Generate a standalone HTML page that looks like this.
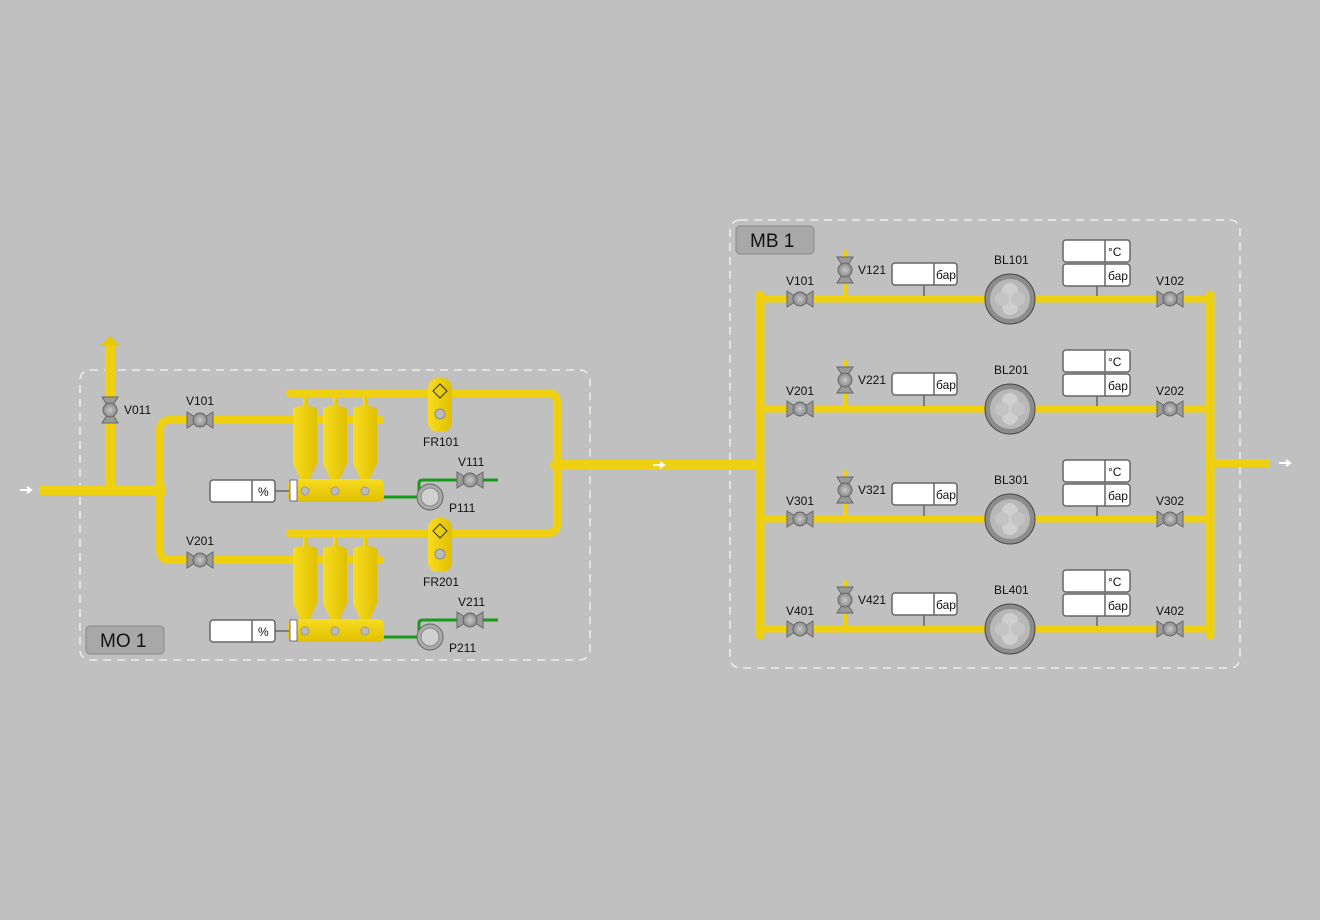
<!DOCTYPE html>
<html><head><meta charset="utf-8"><style>
html,body{margin:0;padding:0;background:#c0c0c0}
svg{display:block}
text{font-family:"Liberation Sans",sans-serif;font-size:12px;fill:#111}
</style></head><body>
<svg width="1320" height="920" viewBox="0 0 1320 920" xmlns="http://www.w3.org/2000/svg">
<defs>
<linearGradient id="py" x1="0" y1="0" x2="0" y2="1"><stop offset="0" stop-color="#f8dc20"/><stop offset="1" stop-color="#e0c000"/></linearGradient>
<linearGradient id="px" x1="0" y1="0" x2="1" y2="0"><stop offset="0" stop-color="#f8dc20"/><stop offset="1" stop-color="#e0c000"/></linearGradient>
<radialGradient id="gb"><stop offset="0" stop-color="#c8c8c8"/><stop offset="1" stop-color="#8a8a8a"/></radialGradient>
<g id="vh"><path d="M-13,-8 L-5,-3 L5,-3 L13,-8 L13,8 L5,3 L-5,3 L-13,8Z" fill="#9a9a9a" stroke="#666" stroke-width="1"/><circle r="7" fill="url(#gb)" stroke="#666"/></g>
<g id="vv"><path d="M-8,-13 L-3,-5 L-3,5 L-8,13 L8,13 L3,5 L3,-5 L8,-13Z" fill="#9a9a9a" stroke="#666"/><circle r="7" fill="url(#gb)" stroke="#666"/></g>
<g id="bl"><circle r="25" fill="#8c8c8c" stroke="#444"/><circle r="20" fill="#b8b8b8"/><circle cx="0" cy="-8" r="8" fill="#cfcfcf"/><circle cx="0" cy="8" r="8" fill="#cfcfcf"/><circle cx="-8" cy="0" r="7" fill="#c4c4c4"/><circle cx="8" cy="0" r="7" fill="#c4c4c4"/></g>
<g id="cy"><rect x="-2" y="-14" width="4" height="10" fill="url(#px)"/><path d="M-12,-1 Q-12,-5 0,-5 Q12,-5 12,-1 L12,52 L4,70 L-4,70 L-12,52Z" fill="url(#px)"/></g>
<g id="fr"><rect x="-12" y="0" width="24" height="54" rx="10" fill="url(#px)"/><path d="M0,6 L7,13 L0,20 L-7,13Z" fill="none" stroke="#333"/><circle cy="36" r="5" fill="#bbb" stroke="#888"/></g>
<g id="pu"><circle r="13" fill="#aaa" stroke="#666"/><circle r="9" fill="#d0d0d0" stroke="#888"/></g>
</defs>

<rect x="80" y="370" width="510" height="290" rx="10" fill="none" stroke="#eee" stroke-width="1.5" stroke-dasharray="8,6"/>
<rect x="730" y="220" width="510" height="448" rx="10" fill="none" stroke="#eee" stroke-width="1.5" stroke-dasharray="8,6"/>
<rect x="86" y="626" width="78" height="28" rx="4" fill="#a8a8a8" stroke="#888"/><text x="100" y="647" style="font-size:19px">MO 1</text>
<rect x="736" y="226" width="78" height="28" rx="4" fill="#a8a8a8" stroke="#888"/><text x="750" y="247" style="font-size:19px">MB 1</text>

<g fill="none" stroke="#eed010" stroke-linecap="round">
<path d="M40,490 H165" stroke-width="10" stroke-linecap="butt"/>
<path d="M110,490 V345" stroke-width="10" stroke-linecap="butt"/>
<path d="M300,420 H170 Q160,420 160,430 V550 Q160,560 170,560 H300" stroke-width="8"/>
<path d="M290,393 H547 Q557,393 557,403 V525 Q557,533 547,533 H290" stroke-width="8"/>
<path d="M555,465 H757" stroke-width="10"/>
<path d="M760,295 V635 M1210,295 V635" stroke-width="9"/>
<path d="M1210,463 H1270" stroke-width="8" stroke-linecap="butt"/>
<path d="M760,299 H1210 M760,409 H1210 M760,519 H1210 M760,629 H1210" stroke-width="7"/>
<path d="M845,299 V252 M845,409 V362 M845,519 V472 M845,629 V582" stroke-width="4"/>
<path d="M300,420 H380 M300,560 H380" stroke-width="8"/>
</g>
<path d="M100,346 L110,336 L120,346Z" fill="#e8c800"/>
<path d="M20,490 H30 M27,487 L31,490 L27,493" stroke="#fff" stroke-width="2" fill="none"/>
<path d="M653,465 H663 M660,462 L664,465 L660,468" stroke="#fff" stroke-width="2" fill="none"/>
<path d="M1279,463 H1289 M1286,460 L1290,463 L1286,466" stroke="#fff" stroke-width="2" fill="none"/>

<g fill="none" stroke="#1a9a1a" stroke-width="3">
<path d="M383,497 H420 M419,495 V483 Q419,480 423,480 H498"/>
<path d="M383,637 H420 M419,635 V623 Q419,620 423,620 H498"/>
</g>

<use href="#vv" x="110" y="410"/><text x="124" y="414">V011</text>
<use href="#vh" x="200" y="420"/><text x="186" y="405">V101</text>
<use href="#vh" x="200" y="560"/><text x="186" y="545">V201</text>
<use href="#cy" x="305" y="411"/><use href="#cy" x="335" y="411"/><use href="#cy" x="365" y="411"/>
<use href="#cy" x="305" y="551"/><use href="#cy" x="335" y="551"/><use href="#cy" x="365" y="551"/>
<g>
<rect x="288" y="479" width="96" height="23" rx="6" fill="url(#py)"/><rect x="290" y="480" width="7" height="21" fill="#fff" stroke="#555" stroke-width=".8"/>
<circle cx="305" cy="491" r="4" fill="#bbb" stroke="#999"/><circle cx="335" cy="491" r="4" fill="#bbb" stroke="#999"/><circle cx="365" cy="491" r="4" fill="#bbb" stroke="#999"/>
<rect x="288" y="619" width="96" height="23" rx="6" fill="url(#py)"/><rect x="290" y="620" width="7" height="21" fill="#fff" stroke="#555" stroke-width=".8"/>
<circle cx="305" cy="631" r="4" fill="#bbb" stroke="#999"/><circle cx="335" cy="631" r="4" fill="#bbb" stroke="#999"/><circle cx="365" cy="631" r="4" fill="#bbb" stroke="#999"/>
</g>
<g stroke="#666" stroke-width="1.5" fill="#fff">
<line x1="275" y1="491" x2="289" y2="491"/><line x1="275" y1="631" x2="289" y2="631"/>
<rect x="210" y="480" width="65" height="22" rx="3"/><line x1="252" y1="480" x2="252" y2="502"/>
<rect x="210" y="620" width="65" height="22" rx="3"/><line x1="252" y1="620" x2="252" y2="642"/>
</g>
<text x="258" y="496">%</text><text x="258" y="636">%</text>
<use href="#fr" x="440" y="378"/><text x="423" y="446">FR101</text>
<use href="#fr" x="440" y="518"/><text x="423" y="586">FR201</text>
<use href="#pu" x="430" y="497"/><text x="449" y="512">P111</text>
<use href="#pu" x="430" y="637"/><text x="449" y="652">P211</text>
<use href="#vh" x="470" y="480"/><text x="458" y="466">V111</text>
<use href="#vh" x="470" y="620"/><text x="458" y="606">V211</text>

<g id="row1">
<g stroke="#666" stroke-width="1.5" fill="#fff">
<line x1="924" y1="285" x2="924" y2="296"/><line x1="1097" y1="285" x2="1097" y2="296"/>
<rect x="892" y="263" width="65" height="22" rx="3"/><line x1="934" y1="263" x2="934" y2="285"/>
<rect x="1063" y="240" width="67" height="22" rx="3"/><line x1="1105" y1="240" x2="1105" y2="262"/>
<rect x="1063" y="264" width="67" height="22" rx="3"/><line x1="1105" y1="264" x2="1105" y2="286"/>
</g>
<use href="#vh" x="800" y="299"/><use href="#vv" x="845" y="270"/><use href="#bl" x="1010" y="299"/><use href="#vh" x="1170" y="299"/>
</g>
<use href="#row1" y="110"/><use href="#row1" y="220"/><use href="#row1" y="330"/>
<text x="786" y="285">V101</text><text x="858" y="274">V121</text><text x="994" y="264">BL101</text><text x="1156" y="285">V102</text>
<text x="786" y="395">V201</text><text x="858" y="384">V221</text><text x="994" y="374">BL201</text><text x="1156" y="395">V202</text>
<text x="786" y="505">V301</text><text x="858" y="494">V321</text><text x="994" y="484">BL301</text><text x="1156" y="505">V302</text>
<text x="786" y="615">V401</text><text x="858" y="604">V421</text><text x="994" y="594">BL401</text><text x="1156" y="615">V402</text>
<g>
<text x="936" y="279">бар</text><text x="1108" y="256">°C</text><text x="1108" y="280">бар</text>
<text x="936" y="389">бар</text><text x="1108" y="366">°C</text><text x="1108" y="390">бар</text>
<text x="936" y="499">бар</text><text x="1108" y="476">°C</text><text x="1108" y="500">бар</text>
<text x="936" y="609">бар</text><text x="1108" y="586">°C</text><text x="1108" y="610">бар</text>
</g>
</svg>
</body></html>
